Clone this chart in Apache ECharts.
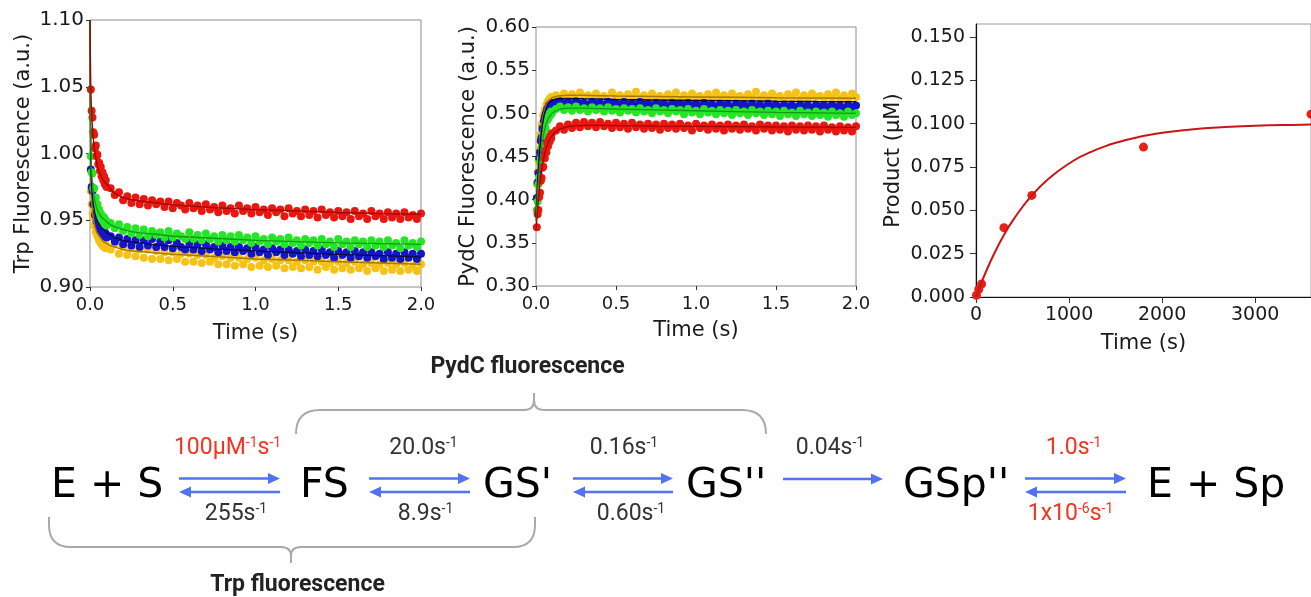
<!DOCTYPE html>
<html><head><meta charset="utf-8">
<script src="https://cdn.jsdelivr.net/npm/echarts@6/dist/echarts.min.js"></script>
<style>html,body{margin:0;padding:0;background:#fff}#c{width:1311px;height:597px}</style>
</head><body><div id="c"></div><script>
// ---------- data: stopped-flow time points (s) ----------
const tData = [0.005,0.01,0.015,0.02,0.025,0.03,0.035,0.04,0.045,0.05,0.055,0.06,0.065,0.07,0.075,0.08,0.085,0.09,0.095,0.1,
0.125,0.15,0.175,0.2,0.225,0.25,0.275,0.3,0.325,0.35,
0.375,0.4,0.425,0.45,0.475,0.5,0.525,0.55,0.575,0.6,
0.625,0.65,0.675,0.7,0.725,0.75,0.775,0.8,0.825,0.85,
0.875,0.9,0.925,0.95,0.975,1.0,1.025,1.05,1.075,1.1,
1.125,1.15,1.175,1.2,1.225,1.25,1.275,1.3,1.325,1.35,
1.375,1.4,1.425,1.45,1.475,1.5,1.525,1.55,1.575,1.6,
1.625,1.65,1.675,1.7,1.725,1.75,1.775,1.8,1.825,1.85,
1.875,1.9,1.925,1.95,1.975,2.0];

// Trp fluorescence data
const trpRed = [1.048,1.032,1.027,1.016,1.014,1.004,1.006,0.998,0.999,0.992,0.993,0.987,0.990,0.983,0.986,0.980,0.983,0.977,0.980,0.975,
0.974,0.969,0.971,0.965,0.968,0.963,0.967,0.962,0.966,0.961,
0.965,0.962,0.964,0.960,0.964,0.959,0.963,0.961,0.958,0.963,
0.959,0.961,0.957,0.962,0.958,0.960,0.956,0.961,0.957,0.959,
0.955,0.961,0.957,0.959,0.955,0.960,0.956,0.958,0.954,0.959,
0.956,0.958,0.953,0.959,0.955,0.957,0.953,0.958,0.954,0.957,
0.952,0.958,0.954,0.956,0.952,0.957,0.953,0.956,0.951,0.957,
0.953,0.955,0.951,0.957,0.953,0.955,0.951,0.956,0.952,0.955,
0.951,0.956,0.952,0.954,0.951,0.955];
const trpGreen = [0.998,0.986,0.985,0.974,0.974,0.966,0.967,0.960,0.962,0.956,0.958,0.953,0.955,0.951,0.953,0.949,0.952,0.947,0.950,0.946,
0.948,0.944,0.947,0.942,0.945,0.940,0.944,0.939,0.943,0.938,
0.942,0.939,0.941,0.937,0.942,0.937,0.940,0.938,0.936,0.941,
0.936,0.939,0.935,0.940,0.936,0.938,0.934,0.939,0.935,0.938,
0.934,0.939,0.935,0.937,0.933,0.938,0.934,0.936,0.932,0.937,
0.934,0.936,0.932,0.937,0.933,0.935,0.931,0.936,0.933,0.935,
0.931,0.936,0.932,0.934,0.930,0.936,0.932,0.934,0.930,0.935,
0.932,0.934,0.930,0.935,0.931,0.934,0.930,0.935,0.931,0.933,
0.929,0.935,0.931,0.933,0.930,0.934];
const trpBlue = [0.988,0.975,0.972,0.962,0.962,0.954,0.955,0.949,0.951,0.946,0.947,0.943,0.945,0.941,0.943,0.940,0.942,0.938,0.940,0.937,
0.938,0.934,0.937,0.932,0.936,0.931,0.935,0.930,0.935,0.931,
0.936,0.930,0.934,0.930,0.935,0.929,0.933,0.930,0.928,0.933,
0.928,0.932,0.927,0.932,0.928,0.930,0.926,0.931,0.927,0.930,
0.926,0.930,0.927,0.929,0.925,0.930,0.926,0.928,0.924,0.929,
0.926,0.928,0.924,0.928,0.925,0.927,0.923,0.928,0.924,0.927,
0.923,0.928,0.924,0.926,0.922,0.927,0.924,0.926,0.922,0.927,
0.923,0.926,0.922,0.926,0.923,0.925,0.921,0.926,0.922,0.925,
0.921,0.926,0.922,0.925,0.921,0.925];
const trpGold = [0.972,0.962,0.955,0.952,0.946,0.946,0.941,0.942,0.938,0.939,0.935,0.937,0.933,0.935,0.931,0.934,0.930,0.932,0.929,0.931,
0.928,0.932,0.925,0.930,0.924,0.929,0.923,0.928,0.922,0.928,
0.921,0.927,0.921,0.926,0.920,0.926,0.921,0.925,0.919,0.925,
0.919,0.924,0.918,0.924,0.919,0.922,0.917,0.923,0.917,0.922,
0.916,0.922,0.917,0.921,0.915,0.922,0.916,0.920,0.915,0.921,
0.916,0.920,0.914,0.920,0.915,0.919,0.914,0.920,0.915,0.919,
0.913,0.919,0.915,0.918,0.913,0.919,0.914,0.918,0.913,0.919,
0.914,0.917,0.912,0.918,0.914,0.917,0.912,0.918,0.913,0.917,
0.912,0.918,0.913,0.916,0.912,0.917];

// PydC fluorescence data
const pydRed = [0.368,0.383,0.388,0.403,0.408,0.422,0.425,0.437,0.438,0.448,0.448,0.457,0.455,0.465,0.462,0.470,0.467,0.474,0.471,0.477,
0.480,0.485,0.481,0.487,0.483,0.489,0.484,0.490,0.485,0.489,
0.484,0.490,0.485,0.488,0.483,0.489,0.484,0.488,0.482,0.489,
0.484,0.487,0.482,0.488,0.483,0.487,0.481,0.488,0.483,0.487,
0.482,0.488,0.483,0.486,0.480,0.488,0.483,0.486,0.481,0.487,
0.482,0.486,0.480,0.487,0.482,0.486,0.481,0.487,0.482,0.485,
0.480,0.487,0.482,0.486,0.480,0.486,0.481,0.485,0.479,0.486,
0.481,0.485,0.480,0.486,0.481,0.485,0.479,0.486,0.481,0.484,
0.479,0.485,0.480,0.484,0.479,0.485];
const pydGreen = [0.388,0.398,0.418,0.426,0.443,0.448,0.461,0.463,0.474,0.474,0.486,0.482,0.492,0.492,0.497,0.495,0.500,0.498,0.502,0.500,
0.505,0.508,0.504,0.507,0.503,0.508,0.504,0.506,0.502,0.507,
0.504,0.506,0.502,0.507,0.503,0.505,0.501,0.506,0.503,0.505,
0.501,0.506,0.502,0.504,0.500,0.506,0.502,0.504,0.500,0.505,
0.502,0.504,0.499,0.505,0.501,0.503,0.499,0.505,0.501,0.503,
0.499,0.504,0.500,0.503,0.498,0.504,0.500,0.502,0.498,0.504,
0.500,0.502,0.498,0.503,0.499,0.502,0.497,0.503,0.499,0.501,
0.497,0.503,0.499,0.501,0.497,0.502,0.498,0.501,0.496,0.502,
0.498,0.500,0.496,0.502,0.498,0.500];
const pydBlue = [0.402,0.420,0.431,0.448,0.455,0.468,0.472,0.482,0.483,0.491,0.495,0.499,0.501,0.505,0.504,0.509,0.507,0.511,0.509,0.512,
0.512,0.514,0.511,0.513,0.510,0.514,0.511,0.512,0.510,0.513,
0.511,0.512,0.509,0.513,0.511,0.512,0.510,0.513,0.510,0.512,
0.509,0.513,0.510,0.511,0.509,0.512,0.510,0.511,0.508,0.512,
0.510,0.511,0.509,0.512,0.509,0.511,0.508,0.512,0.509,0.510,
0.508,0.511,0.509,0.510,0.507,0.511,0.509,0.510,0.508,0.511,
0.508,0.510,0.507,0.511,0.508,0.510,0.507,0.510,0.508,0.509,
0.507,0.510,0.508,0.509,0.506,0.510,0.508,0.509,0.507,0.510,
0.507,0.509,0.506,0.510,0.507,0.509];
const pydGold = [0.418,0.432,0.446,0.457,0.470,0.476,0.486,0.489,0.497,0.498,0.504,0.503,0.510,0.509,0.514,0.512,0.517,0.515,0.519,0.516,
0.521,0.517,0.523,0.518,0.522,0.516,0.524,0.519,0.521,0.516,
0.523,0.518,0.520,0.515,0.524,0.519,0.521,0.516,0.522,0.518,
0.525,0.517,0.521,0.516,0.523,0.519,0.520,0.515,0.522,0.518,
0.524,0.516,0.521,0.517,0.523,0.519,0.520,0.515,0.522,0.517,
0.524,0.518,0.521,0.516,0.523,0.519,0.520,0.516,0.522,0.518,
0.525,0.517,0.521,0.516,0.523,0.519,0.520,0.515,0.522,0.518,
0.524,0.516,0.521,0.517,0.523,0.519,0.520,0.516,0.522,0.518,
0.524,0.517,0.521,0.516,0.523,0.519];

// fitted curves
const tFit = [0,0.0025,0.005,0.0075,0.01,0.015,0.02,0.025,0.03,0.04,0.05,0.06,0.07,0.08,0.1,0.125,0.15,0.2,0.25,0.3,0.4,0.5,0.75,1.0,1.25,1.5,1.75,2.0];
const trpRedFit = [1.10,1.07,1.05,1.038,1.03,1.019,1.011,1.005,1.0,0.993,0.988,0.985,0.982,0.980,0.977,0.973,0.970,0.967,0.9655,0.9645,0.963,0.9615,0.9595,0.958,0.957,0.9558,0.955,0.9545];
const trpGreenFit = [1.10,1.04,1.005,0.99,0.985,0.977,0.971,0.967,0.964,0.959,0.956,0.954,0.952,0.951,0.949,0.9465,0.945,0.943,0.9415,0.9405,0.9395,0.938,0.9365,0.935,0.934,0.933,0.9325,0.932];
const trpBlueFit = [1.10,1.03,0.995,0.982,0.975,0.967,0.962,0.958,0.955,0.951,0.948,0.946,0.944,0.943,0.941,0.939,0.937,0.935,0.934,0.933,0.9315,0.9305,0.9285,0.927,0.9258,0.9245,0.9235,0.9225];
const trpGoldFit = [1.10,1.02,0.985,0.970,0.963,0.956,0.951,0.948,0.945,0.941,0.939,0.937,0.9355,0.934,0.9325,0.931,0.930,0.928,0.927,0.9265,0.9255,0.9245,0.9228,0.921,0.920,0.919,0.918,0.917];
const pydRedFit = [0.365,0.37,0.376,0.382,0.388,0.40,0.41,0.419,0.427,0.44,0.45,0.457,0.463,0.468,0.474,0.479,0.482,0.4845,0.4855,0.486,0.486,0.4858,0.4852,0.4848,0.4845,0.4842,0.484,0.4838];
const pydGreenFit = [0.375,0.383,0.392,0.40,0.408,0.422,0.434,0.445,0.454,0.468,0.478,0.486,0.491,0.495,0.500,0.503,0.505,0.506,0.506,0.506,0.5055,0.505,0.504,0.503,0.502,0.501,0.5005,0.500];
const pydBlueFit = [0.38,0.39,0.40,0.41,0.42,0.436,0.45,0.462,0.472,0.487,0.497,0.504,0.509,0.512,0.515,0.5165,0.517,0.5172,0.517,0.5168,0.5165,0.516,0.5155,0.515,0.5145,0.514,0.5137,0.5135];
const pydGoldFit = [0.385,0.395,0.405,0.415,0.425,0.442,0.456,0.468,0.478,0.492,0.501,0.508,0.512,0.515,0.518,0.5195,0.5205,0.521,0.521,0.521,0.5205,0.520,0.5195,0.519,0.5185,0.518,0.5178,0.5175];

// product formation
const productTime = [5,30,60,300,600,1800,3600];
const productUM = [0.001,0.0045,0.0075,0.040,0.0586,0.0865,0.1055];
const productFitTime = [0,50,100,200,300,400,600,800,1000,1200,1600,2000,2500,3000,3500,3600];
const productFitUM = [0,0.0071,0.0137,0.0255,0.0357,0.0445,0.0586,0.0691,0.0770,0.0829,0.0904,0.0947,0.0975,0.0988,0.0994,0.0995];

// tick labels
const fluorTimeTicks = [0,0.5,1.0,1.5,2.0];
const trpTicks = [0.90,0.95,1.00,1.05,1.10];
const pydTicks = [0.30,0.35,0.40,0.45,0.50,0.55,0.60];
const productTimeTicks = [0,1000,2000,3000];
const productTicks = [0,0.025,0.05,0.075,0.1,0.125,0.15];

// reaction scheme text
const species = ['E + S', 'FS', "GS'", "GS''", "GSp''", 'E + Sp'];
const forwardRates = [['100μM','-1','s','-1'], ['20.0s','-1'], ['0.16s','-1'], ['0.04s','-1'], ['1.0s','-1']];
const reverseRates = [['255s','-1'], ['8.9s','-1'], ['0.60s','-1'], null, ['1x10','-6','s','-1']];
const forwardRed = [true, false, false, false, true];
const reverseRed = [false, false, false, false, true];
const bracketLabels = ['PydC fluorescence', 'Trp fluorescence'];

// ---------- chart ----------
const FONT = 'DejaVu Sans';
const TXT = '#1a1a1a';
const C = {red:'#e8170f', green:'#25e625', blue:'#1414c8', gold:'#f5c215'};
const CF = {red:'#a50000', green:'#139a13', blue:'#0a0a40', gold:'#a87800'};
const pairs = (xs, ys) => ys.map((y, i) => [xs[i], y]);

function xAx(gi, min, max, interval, ticks, fmt, gap, fs) {
  return {
    gridIndex: gi, type: 'value', min, max, interval,
    axisLine: {show: gi === 2, lineStyle: {color: '#111', width: 1.2}},
    axisTick: {show: true, length: gi === 2 ? 6 : 4, lineStyle: {color: '#333'}, customValues: ticks},
    axisLabel: {fontFamily: FONT, fontSize: fs, color: TXT, margin: 9, formatter: fmt, customValues: ticks},
    splitLine: {show: false},
    name: 'Time (s)', nameLocation: 'middle', nameGap: gap,
    nameTextStyle: {fontFamily: FONT, fontSize: 21, color: TXT}
  };
}
function yAx(gi, min, max, interval, ticks, fmt, name, gap, fs, margin) {
  return {
    gridIndex: gi, type: 'value', min, max, interval,
    axisLine: {show: gi === 2, lineStyle: {color: '#111', width: 1.2}},
    axisTick: {show: true, length: gi === 2 ? 6 : 4, lineStyle: {color: '#333'}, customValues: ticks},
    axisLabel: {fontFamily: FONT, fontSize: fs, color: TXT, margin, formatter: fmt, customValues: ticks},
    splitLine: {show: false},
    name, nameLocation: 'middle', nameGap: gap,
    nameTextStyle: {fontFamily: FONT, fontSize: 21, color: TXT}
  };
}

function scat(gi, vals, color) {
  return {type: 'scatter', xAxisIndex: gi, yAxisIndex: gi, data: pairs(tData, vals), symbolSize: 8,
    itemStyle: {color, opacity: 1}, silent: true, z: 2};
}
function fit(gi, xs, vals, color, w, smooth) {
  return {type: 'line', xAxisIndex: gi, yAxisIndex: gi, data: pairs(xs, vals), symbol: 'none', smooth: !!smooth,
    lineStyle: {color, width: w}, silent: true, z: 5};
}

// scheme graphics
const ARROW = '#5272f2';
const G = [];
function arrow(x1, x2, y) {
  const d = x2 > x1 ? 1 : -1;
  G.push({type: 'line', shape: {x1, y1: y, x2: x2 - d * 8, y2: y}, style: {stroke: ARROW, lineWidth: 2.5}});
  G.push({type: 'polygon', shape: {points: [[x2, y], [x2 - d * 12, y - 5.5], [x2 - d * 12, y + 5.5]]}, style: {fill: ARROW}});
}
function rate(parts, red, cx, cy) {
  if (!parts) return;
  const col = red ? '#f2351f' : '#333333';
  const txt = parts.map((p, i) => (i % 2 ? '{s|' : '{n|') + p + '}').join('');
  G.push({type: 'text', x: cx, y: cy, style: {text: txt, align: 'center', verticalAlign: 'middle',
    textAlign: 'center', textVerticalAlign: 'middle',
    rich: {
      n: {fontSize: 23, fontFamily: 'Roboto', fill: col, color: col, lineHeight: 24, verticalAlign: 'bottom'},
      s: {fontSize: 14, fontFamily: 'Roboto', fill: col, color: col, lineHeight: 12, verticalAlign: 'top'}
    }}});
}
const speciesX = [51, 300, 483, 686, 903, 1147];
species.forEach((s, i) => G.push({type: 'text', x: speciesX[i], y: 486,
  style: {text: s, fontSize: 41, fontFamily: FONT, fill: '#000', align: 'left', verticalAlign: 'middle', textAlign: 'left', textVerticalAlign: 'middle'}}));
const arrowX = [[179, 280], [369, 470], [573, 673], [783, 883], [1025, 1126]];
arrowX.forEach((a, i) => {
  if (reverseRates[i]) { arrow(a[0], a[1], 478.5); arrow(a[1], a[0], 492); }
  else arrow(a[0], a[1], 479);
});
const topX = [227.5, 423.5, 624, 830, 1073.5];
const botX = [236, 425.5, 631, 0, 1070.5];
forwardRates.forEach((r, i) => rate(r, forwardRed[i], topX[i], 448));
reverseRates.forEach((r, i) => rate(r, reverseRed[i], botX[i], 514));

// brackets
const BR = {stroke: '#a9a9a9', lineWidth: 2, fill: null};
function ln(x1, y1, x2, y2) { G.push({type: 'line', shape: {x1, y1, x2, y2}, style: BR}); }
function qb(x1, y1, cx, cy, x2, y2) { G.push({type: 'bezierCurve', shape: {x1, y1, x2, y2, cpx1: cx, cpy1: cy}, style: BR}); }
// top (PydC)
qb(296, 434, 296, 410, 320, 410); ln(320, 410, 524, 410);
qb(524, 410, 534, 410, 534, 400); ln(534, 400, 534, 393);
qb(534, 400, 534, 410, 544, 410); ln(544, 410, 742, 410);
qb(742, 410, 766, 410, 766, 434);
// bottom (Trp)
ln(49, 517, 49, 525); qb(49, 525, 49, 547, 71, 547); ln(71, 547, 281, 547);
qb(281, 547, 291, 547, 291, 556); ln(291, 556, 291, 563);
qb(291, 556, 291, 547, 301, 547); ln(301, 547, 513, 547);
qb(513, 547, 535, 547, 535, 525); ln(535, 525, 535, 517);
G.push({type: 'text', x: 527.5, y: 367, style: {text: bracketLabels[0], fontSize: 23, fontWeight: 'bold', fontFamily: 'Roboto', fill: '#222',
  align: 'center', verticalAlign: 'middle', textAlign: 'center', textVerticalAlign: 'middle'}});
G.push({type: 'text', x: 297.5, y: 585, style: {text: bracketLabels[1], fontSize: 23, fontWeight: 'bold', fontFamily: 'Roboto', fill: '#222',
  align: 'center', verticalAlign: 'middle', textAlign: 'center', textVerticalAlign: 'middle'}});

const option = {
  animation: false,
  backgroundColor: '#fff',
  grid: [
    {left: 90, top: 20, width: 331, height: 267, show: true, borderColor: '#8c8c8c', borderWidth: 1},
    {left: 536, top: 27, width: 320, height: 259, show: true, borderColor: '#8c8c8c', borderWidth: 1},
    {left: 976, top: 24, width: 335, height: 273, show: true, borderColor: '#9a9a9a', borderWidth: 1}
  ],
  xAxis: [
    xAx(0, 0, 2, 0.5, fluorTimeTicks, v => v.toFixed(1), 36, 18),
    xAx(1, 0, 2, 0.5, fluorTimeTicks, v => v.toFixed(1), 34, 18),
    xAx(2, 0, 3600, 1000, productTimeTicks, v => String(v), 36, 19)
  ],
  yAxis: [
    yAx(0, 0.9, 1.1, 0.05, trpTicks, v => v.toFixed(2), 'Trp Fluorescence (a.u.)', 56, 20, 6),
    yAx(1, 0.3, 0.6, 0.05, pydTicks, v => v.toFixed(2), 'PydC Fluorescence (a.u.)', 57, 20, 6),
    yAx(2, 0, 0.1575, 0.025, productTicks, v => v.toFixed(3), 'Product (μM)', 72, 19, 11)
  ],
  series: [
    scat(0, trpGold, C.gold), scat(0, trpBlue, C.blue), scat(0, trpGreen, C.green), scat(0, trpRed, C.red),
    fit(0, tFit, trpGoldFit, CF.gold, 1.5), fit(0, tFit, trpBlueFit, CF.blue, 1.3), fit(0, tFit, trpGreenFit, CF.green, 1.3), fit(0, tFit, trpRedFit, CF.red, 1.3),
    scat(1, pydGold, C.gold), scat(1, pydBlue, C.blue), scat(1, pydGreen, C.green), scat(1, pydRed, C.red),
    fit(1, tFit, pydGoldFit, CF.gold, 1.5), fit(1, tFit, pydBlueFit, CF.blue, 1.5), fit(1, tFit, pydGreenFit, CF.green, 1.3), fit(1, tFit, pydRedFit, CF.red, 1.3),
    {type: 'scatter', xAxisIndex: 2, yAxisIndex: 2, data: pairs(productTime, productUM), symbolSize: 9, itemStyle: {color: '#e8201a', opacity: 1}, z: 4, clip: false},
    fit(2, productFitTime, productFitUM, '#cc1414', 2, true)
  ],
  graphic: {elements: G}
};
const chart = echarts.init(document.getElementById('c'), null, {renderer: 'canvas'});
chart.setOption(option);
</script></body></html>
